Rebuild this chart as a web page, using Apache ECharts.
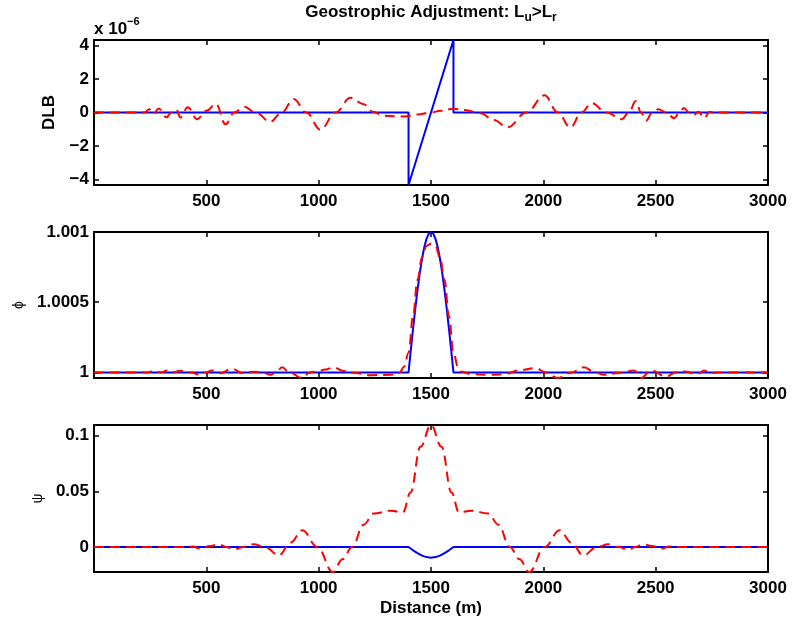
<!DOCTYPE html>
<html><head><meta charset="utf-8">
<script src="https://cdn.jsdelivr.net/npm/echarts@6/dist/echarts.min.js"></script>
<style>html,body{margin:0;padding:0;background:#fff}#c{width:793px;height:626px}</style>
</head><body><div id="c"></div>
<script>
const chartTitle = 'Geostrophic Adjustment: L{sub|u}>L{sub|r}';
const dlbExponent = 'x 10{sup|−6}';
const xLabel = 'Distance (m)';
const yNames = ['DLB', 'ϕ', 'ψ'];
const xTicks = [500, 1000, 1500, 2000, 2500, 3000];
const yTicksDLB = [-4, -2, 0, 2, 4];
const yTicksPhi = [1, 1.0005, 1.001];
const yTicksPsi = [0, 0.05, 0.1];

// DLB in units of 1e-6
const dlbBlue = [[0,0],[1400,0],[1400,-4.33],[1600,4.33],[1600,0],[3000,0]];
const dlbRed = [[0,0],[225,0],[246,0.2],[265,-0.08],[288,0.24],[322,-0.28],[345,0],[366,0.16],[385,-0.3],[417,0.32],[459,-0.4],[500,0.1],[543,0.52],[585,-0.7],[625,0],[669,0.34],[720,0],[785,-0.56],[835,0],[889,0.8],[945,0],[1008,-1.03],[1075,0],[1142,0.88],[1200,0.5],[1240,0.05],[1290,-0.2],[1380,-0.24],[1440,-0.12],[1500,0],[1543,0.1],[1600,0.22],[1650,0.15],[1720,-0.05],[1780,-0.45],[1840,-0.88],[1925,0],[2005,1.03],[2065,0],[2120,-0.9],[2170,0],[2215,0.56],[2280,0],[2350,-0.4],[2380,0],[2412,0.68],[2435,0],[2457,-0.5],[2485,0],[2512,0.2],[2545,0],[2583,-0.34],[2605,0],[2626,0.27],[2648,0],[2670,-0.14],[2690,0.05],[2716,-0.34],[2740,0.05],[2760,0],[3000,0]];

const phiBlue = [[0,1],[1400,1],[1410,1.000156],[1420,1.000309],[1430,1.000454],[1440,1.000588],[1450,1.000707],[1460,1.000809],[1470,1.000891],[1480,1.000951],[1490,1.000988],[1500,1.001],[1510,1.000988],[1520,1.000951],[1530,1.000891],[1540,1.000809],[1550,1.000707],[1560,1.000588],[1570,1.000454],[1580,1.000309],[1590,1.000156],[1600,1],[3000,1]];
const phiRed = [[0,1],[240,1],[265,1.00001],[300,1],[325,1.000014],[355,1],[384,1.000012],[430,1],[472,0.999983],[500,1],[524,1.000014],[561,0.999993],[614,1.000026],[660,0.999995],[711,1.000005],[750,1],[785,0.999983],[810,1],[837,1.000036],[870,1],[927,0.99996],[960,1],[993,1.000007],[1030,1.00002],[1067,1.000036],[1110,1.00001],[1156,0.999998],[1230,0.99998],[1320,0.999983],[1360,0.999998],[1380,1.00004],[1400,1.00014],[1420,1.0004],[1440,1.00066],[1460,1.00082],[1480,1.0009],[1500,1.000917],[1520,1.0009],[1540,1.00082],[1560,1.00066],[1580,1.0004],[1600,1.00014],[1620,1.00004],[1632,1.000007],[1677,0.999988],[1766,0.999983],[1826,0.999988],[1900,1.000017],[1966,1.000031],[2010,1],[2063,0.99996],[2122,0.999997],[2181,1.000036],[2230,1],[2270,0.999983],[2345,0.999998],[2405,1.000014],[2435,0.99996],[2480,1.000014],[2546,0.99997],[2590,1],[2627,1.000007],[2686,0.999988],[2716,1.000014],[2746,0.999991],[2770,1],[3000,1]];

const psiBlue = [[0,0],[1400,0],[1420,-0.003],[1440,-0.0056],[1460,-0.0078],[1480,-0.0091],[1500,-0.0096],[1520,-0.0091],[1540,-0.0078],[1560,-0.0056],[1580,-0.003],[1600,0],[3000,0]];
const psiRed = [[0,0],[400,0],[440,0.0004],[473,-0.0015],[515,0.0008],[555,0.0024],[590,0],[622,-0.0024],[665,0],[711,0.0024],[760,0],[823,-0.0075],[875,0.004],[927,0.015],[994,0],[1063,-0.0225],[1106,-0.011],[1149,0],[1200,0.02],[1245,0.03],[1320,0.0326],[1375,0.031],[1409,0.049],[1453,0.09],[1500,0.1096],[1547,0.09],[1591,0.049],[1625,0.031],[1680,0.0326],[1755,0.03],[1800,0.02],[1851,0],[1894,-0.011],[1937,-0.0225],[2006,0],[2073,0.015],[2125,0.004],[2177,-0.0075],[2240,0],[2289,0.0024],[2335,0],[2378,-0.0024],[2410,0],[2445,0.0024],[2485,0.0008],[2527,-0.0015],[2560,0.0004],[2600,0],[3000,0]];

const yRanges = [[-4.33, 4.33], [0.99996, 1.001], [-0.0225, 0.1096]];
const ySplits = [4, 2, 3];
const yTickSets = [yTicksDLB, yTicksPhi, yTicksPsi];
const blueSets = [dlbBlue, phiBlue, psiBlue];
const redSets = [dlbRed, phiRed, psiRed];

const FONT = '"Liberation Sans", Arial, sans-serif';
const grids = [
  {left: 94, width: 674, top: 40, height: 145},
  {left: 94, width: 674, top: 232, height: 146},
  {left: 94, width: 674, top: 425, height: 147}
];
const nameGaps = [36, 68, 49];

function labelFmt(ticks) {
  return function (v) {
    for (const t of ticks) {
      if (Math.abs(v - t) < 1e-8) return String(t).replace('-', '\u2212');
    }
    return '';
  };
}
const lineStyle = {color: '#000', width: 2};
const tickStyle = {color: '#000', width: 1.5};
const labelStyle = {fontFamily: FONT, fontSize: 17, fontWeight: 'bold', color: '#000'};

const xAxes = [], yAxes = [], series = [];
for (let i = 0; i < 3; i++) {
  xAxes.push({
    type: 'value', gridIndex: i, position: 'bottom', min: 0, max: 3000, interval: 500,
    axisLine: {onZero: false, lineStyle}, axisTick: {inside: true, length: 5, lineStyle: tickStyle},
    splitLine: {show: false},
    axisLabel: Object.assign({margin: 8, formatter: labelFmt(xTicks), showMinLabel: true, showMaxLabel: true}, labelStyle),
    name: i === 2 ? xLabel : '', nameLocation: 'middle', nameGap: 28, nameTextStyle: labelStyle
  });
}
for (let i = 0; i < 3; i++) {
  xAxes.push({
    type: 'value', gridIndex: i, position: 'top', min: 0, max: 3000, interval: 500,
    axisLine: {onZero: false, lineStyle}, axisTick: {inside: true, length: 5, lineStyle: tickStyle},
    splitLine: {show: false}, axisLabel: {show: false}
  });
}
for (let i = 0; i < 3; i++) {
  yAxes.push({
    type: 'value', gridIndex: i, position: 'left', min: yRanges[i][0], max: yRanges[i][1], splitNumber: ySplits[i],
    scale: true,
    axisLine: {onZero: false, lineStyle}, axisTick: {inside: true, length: 5, lineStyle: tickStyle},
    splitLine: {show: false},
    axisLabel: Object.assign({margin: 5, formatter: labelFmt(yTickSets[i]), showMinLabel: true, showMaxLabel: true}, labelStyle),
    name: yNames[i], nameLocation: 'middle', nameRotate: 90, nameGap: nameGaps[i],
    nameTextStyle: i === 0 ? labelStyle : {fontFamily: FONT, fontSize: 14, color: '#000'}
  });
}
for (let i = 0; i < 3; i++) {
  yAxes.push({
    type: 'value', gridIndex: i, position: 'right', min: yRanges[i][0], max: yRanges[i][1], splitNumber: ySplits[i],
    scale: true,
    axisLine: {onZero: false, lineStyle}, axisTick: {inside: true, length: 5, lineStyle: tickStyle},
    splitLine: {show: false}, axisLabel: {show: false}
  });
}
for (let i = 0; i < 3; i++) {
  series.push({
    type: 'line', xAxisIndex: i, yAxisIndex: i, data: blueSets[i], showSymbol: false, symbol: 'none',
    lineStyle: {color: '#0000ff', width: 2}, z: 3, clip: true
  });
  series.push({
    type: 'line', xAxisIndex: i, yAxisIndex: i, data: redSets[i], showSymbol: false, symbol: 'none',
    smooth: 0.4, smoothMonotone: 'x',
    lineStyle: {color: '#ff0000', width: 2, type: [10, 6]}, z: 4, clip: true
  });
}

const chart = echarts.init(document.getElementById('c'), null, {renderer: 'canvas'});
chart.setOption({
  animation: false,
  backgroundColor: '#fff',
  title: [
    {text: chartTitle, left: 431, textAlign: 'center', top: 0, padding: 0,
     textStyle: {fontFamily: FONT, fontSize: 17, fontWeight: 'bold', color: '#000', lineHeight: 24,
       rich: {sub: {fontFamily: FONT, fontSize: 12, fontWeight: 'bold', color: '#000', verticalAlign: 'bottom', lineHeight: 12}}}},
    {text: dlbExponent, left: 94, top: 16, padding: 0,
     textStyle: {fontFamily: FONT, fontSize: 17, fontWeight: 'bold', color: '#000', lineHeight: 26,
       rich: {sup: {fontFamily: FONT, fontSize: 11, fontWeight: 'bold', color: '#000', verticalAlign: 'top', lineHeight: 11}}}}
  ],
  grid: grids.map(g => Object.assign({containLabel: false, outerBoundsMode: 'none'}, g)),
  xAxis: xAxes,
  yAxis: yAxes,
  series: series
});
</script></body></html>
